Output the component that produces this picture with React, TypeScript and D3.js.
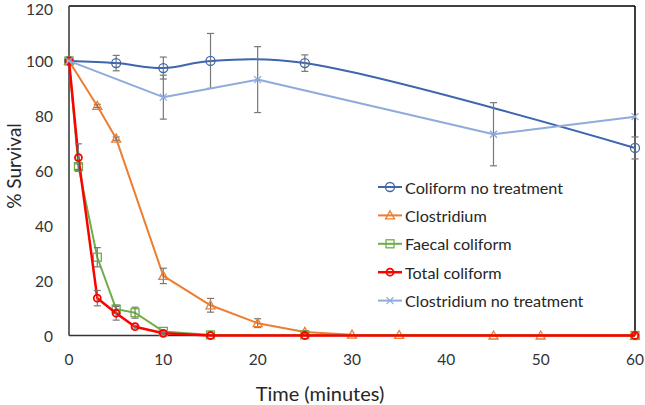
import React from "react";
import * as d3 from "d3";

const colX = [0, 5, 10, 15, 25, 60];
const colY = [100, 99.2, 97.4, 100, 99.2, 68.3];
const colE = [0, 2.8, 4, 10, 3, 4];

const cloX = [0, 3, 5, 10, 15, 20, 25, 30, 35, 45, 50, 60];
const cloY = [100, 83.6, 71.7, 21.7, 11, 4.5, 1.3, 0.3, 0.2, 0, 0, 0];
const cloE = [0, 0.6, 0.6, 2.8, 2.5, 1.6, 0.5, 0, 0, 0, 0, 0];

const faeX = [0, 1, 3, 5, 7, 10, 15, 25, 60];
const faeY = [100, 61.5, 28.5, 9.6, 8.3, 1.5, 0.2, 0.2, 0];
const faeE = [0, 1, 3.5, 1.5, 2, 0.3, 0, 0, 0];

const totX = [0, 1, 3, 5, 7, 10, 15, 25, 60];
const totY = [100, 64.8, 13.6, 8.1, 3.2, 0.8, 0, 0, 0];
const totE = [0, 5, 2.8, 2.5, 0.5, 0.3, 0, 0, 0];

const cntX = [0, 10, 20, 45, 60];
const cntY = [100, 86.8, 93.2, 73.3, 79.7];
const cntE = [0, 8, 12, 11.5, 0];

const xTicks = [0, 10, 20, 30, 40, 50, 60];
const yTicks = [0, 20, 40, 60, 80, 100, 120];

const seriesNames = [
  "Coliform no treatment",
  "Clostridium",
  "Faecal coliform",
  "Total coliform",
  "Clostridium no treatment",
];

const FONT = "Lato, 'Open Sans', sans-serif";

type S = {
  name: string;
  xs: number[];
  ys: number[];
  es: number[];
  color: string;
  width: number;
  marker: "circle" | "triangle" | "square" | "diamond" | "x";
  smooth: boolean;
};

const series: S[] = [
  { name: seriesNames[0], xs: colX, ys: colY, es: colE, color: "#3F65AC", width: 2, marker: "circle", smooth: true },
  { name: seriesNames[1], xs: cloX, ys: cloY, es: cloE, color: "#ED7D31", width: 2, marker: "triangle", smooth: false },
  { name: seriesNames[2], xs: faeX, ys: faeY, es: faeE, color: "#70AD47", width: 2, marker: "square", smooth: false },
  { name: seriesNames[3], xs: totX, ys: totY, es: totE, color: "#FF0000", width: 2.5, marker: "diamond", smooth: false },
  { name: seriesNames[4], xs: cntX, ys: cntY, es: cntE, color: "#8FAADC", width: 2, marker: "x", smooth: false },
];

function Marker({ type, x, y, color }: { type: string; x: number; y: number; color: string }) {
  const sw = 1.3;
  if (type === "circle") return <circle cx={x} cy={y} r={4.5} fill="none" stroke={color} strokeWidth={sw} />;
  if (type === "triangle")
    return (
      <path d={`M${x},${y - 4.5}L${x + 4.5},${y + 3.5}L${x - 4.5},${y + 3.5}Z`} fill="none" stroke={color} strokeWidth={sw} />
    );
  if (type === "square")
    return <rect x={x - 4} y={y - 4} width={8} height={8} fill="none" stroke={color} strokeWidth={sw} />;
  if (type === "diamond")
    return <circle cx={x} cy={y} r={3.5} fill="none" stroke={color} strokeWidth={1.8} />;
  return (
    <path d={`M${x - 3.5},${y - 3.5}L${x + 3.5},${y + 3.5}M${x - 3.5},${y + 3.5}L${x + 3.5},${y - 3.5}`} stroke={color} strokeWidth={sw} />
  );
}

export default function App() {
  const W = 645, H = 405;
  const x = d3.scaleLinear().domain([0, 60]).range([69, 635]);
  const y = d3.scaleLinear().domain([0, 120]).range([335.5, 6]);

  const legendX = 378;
  const legendY0 = 187;
  const legendDy = 28.4;

  return (
    <svg width={W} height={H} style={{ position: "absolute", left: 0, top: 0, background: "#fff" }}>
      <rect x={0} y={0} width={W} height={H} fill="#fff" />
      {/* frame */}
      <line x1={x(0)} x2={x(60)} y1={y(120)} y2={y(120)} stroke="#000" strokeWidth={1.5} />
      <line x1={x(60)} x2={x(60)} y1={y(120)} y2={y(0)} stroke="#000" strokeWidth={1.5} />
      <line x1={x(0)} x2={x(0)} y1={y(120)} y2={y(0)} stroke="#333" strokeWidth={1.5} />
      <line x1={x(0)} x2={x(60)} y1={y(0)} y2={y(0)} stroke="#333" strokeWidth={1.5} />

      {/* y ticks */}
      {yTicks.map((t) => (
        <text key={"y" + t} x={53} y={Math.max(y(t), 8.5)} textAnchor="end" dominantBaseline="central" fontFamily={FONT} fontSize={15.5} fill="#333">
          {t}
        </text>
      ))}
      {xTicks.map((t) => (
        <text key={"x" + t} x={x(t)} y={359} textAnchor="middle" dominantBaseline="central" fontFamily={FONT} fontSize={15.5} fill="#333">
          {t}
        </text>
      ))}
      <text x={320} y={393} textAnchor="middle" dominantBaseline="central" fontFamily={FONT} fontSize={20} fill="#262626">
        Time (minutes)
      </text>
      <text
        transform={`translate(13,166) rotate(-90)`}
        textAnchor="middle"
        dominantBaseline="central"
        fontFamily={FONT}
        fontSize={19}
        fill="#262626"
      >
        % Survival
      </text>

      {/* series */}
      {series.map((s, i) => {
        const pts: [number, number][] = s.xs.map((v, j) => [x(v), y(s.ys[j])]);
        const line = d3.line().curve(s.smooth ? d3.curveCatmullRom.alpha(0.5) : d3.curveLinear);
        return (
          <g key={i}>
            <path d={line(pts) || ""} fill="none" stroke={s.color} strokeWidth={s.width} strokeLinejoin="round" />
            {s.xs.map((v, j) =>
              s.es[j] > 0 ? (
                <g key={"e" + j} stroke="#777" strokeWidth={1.2}>
                  <line x1={x(v)} x2={x(v)} y1={y(s.ys[j] + s.es[j])} y2={y(s.ys[j] - s.es[j])} />
                  <line x1={x(v) - 3.5} x2={x(v) + 3.5} y1={y(s.ys[j] + s.es[j])} y2={y(s.ys[j] + s.es[j])} />
                  <line x1={x(v) - 3.5} x2={x(v) + 3.5} y1={y(s.ys[j] - s.es[j])} y2={y(s.ys[j] - s.es[j])} />
                </g>
              ) : null
            )}
            {pts.map((p, j) => (
              <Marker key={"m" + j} type={s.marker} x={p[0]} y={p[1]} color={s.color} />
            ))}
          </g>
        );
      })}

      {/* legend */}
      {series.map((s, i) => {
        const ly = legendY0 + i * legendDy;
        return (
          <g key={"l" + i}>
            <line x1={legendX} x2={legendX + 24} y1={ly} y2={ly} stroke={s.color} strokeWidth={s.width} />
            <Marker type={s.marker} x={legendX + 12} y={ly} color={s.color} />
            <text x={legendX + 27} y={ly} dominantBaseline="central" fontFamily={FONT} fontSize={16.2} fill="#262626">
              {s.name}
            </text>
          </g>
        );
      })}
    </svg>
  );
}
